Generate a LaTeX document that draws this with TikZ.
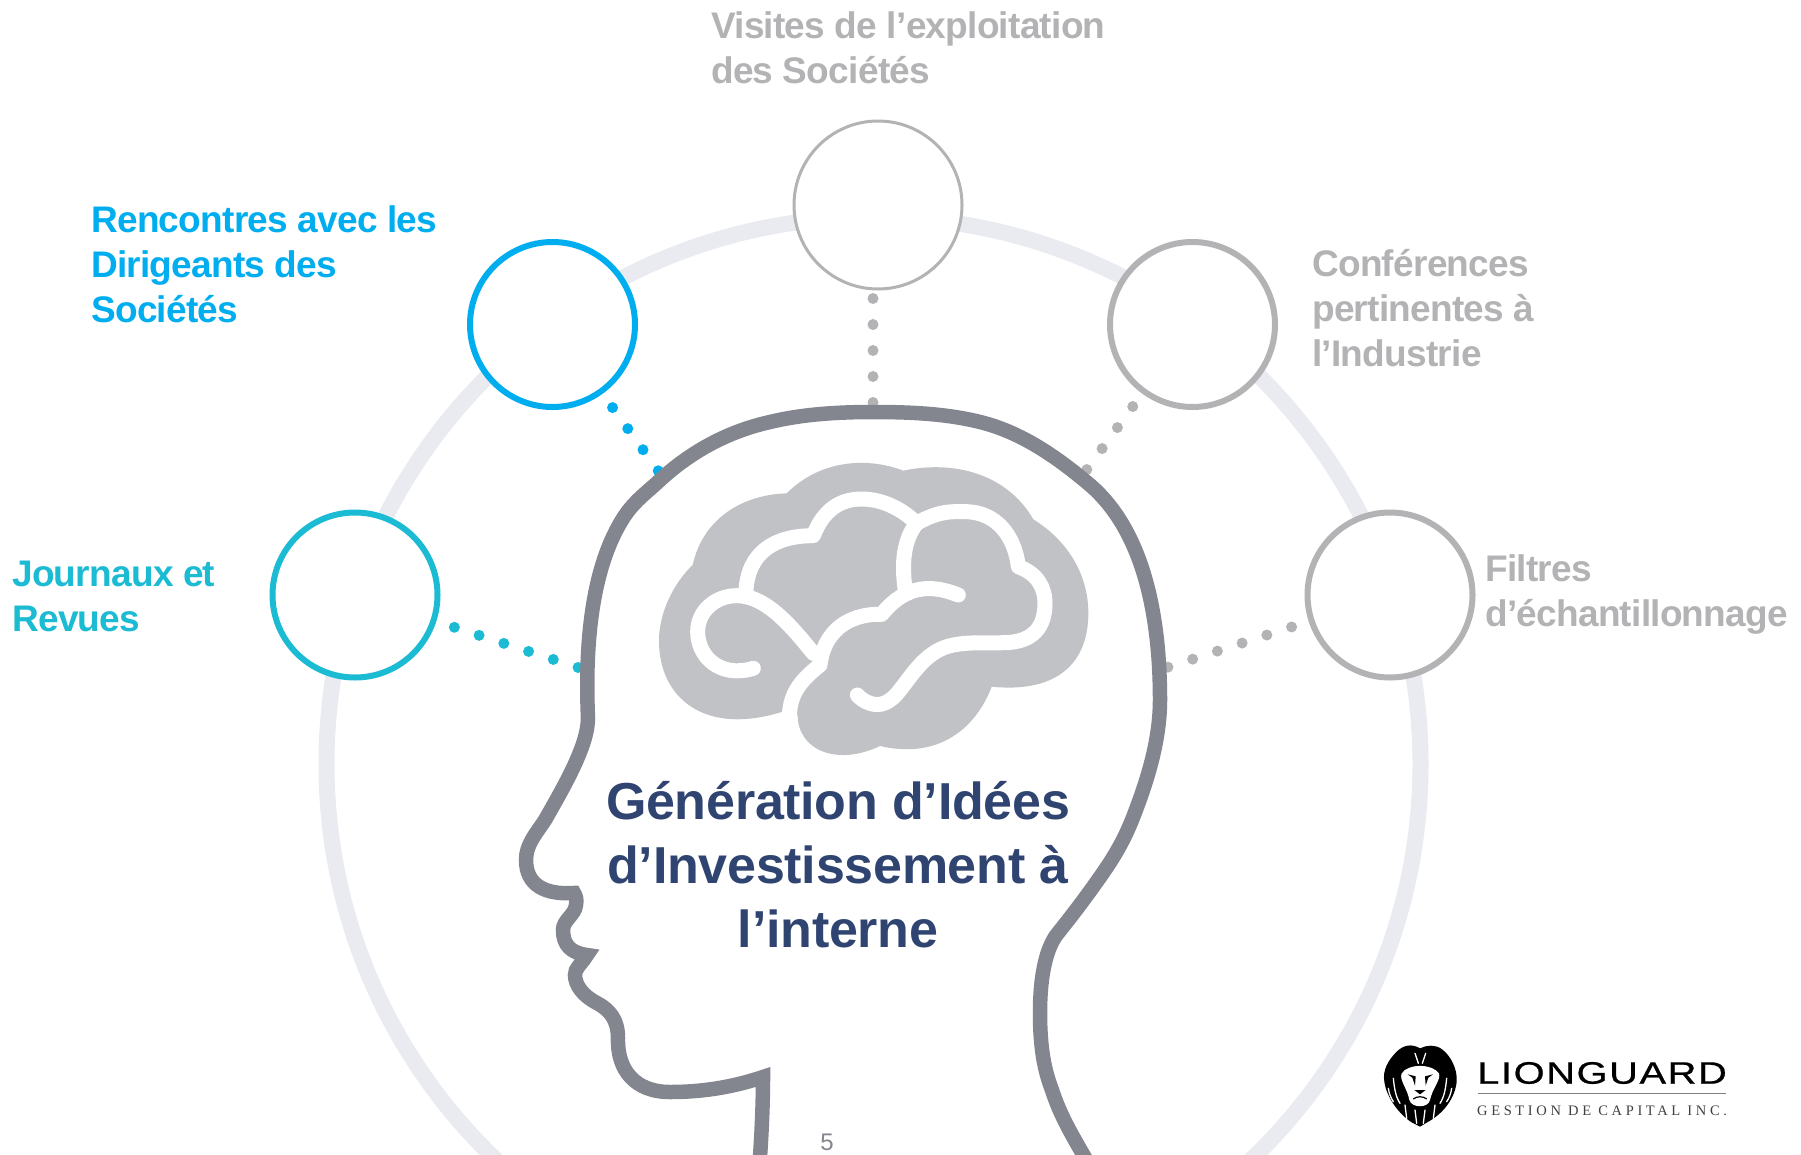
\documentclass[tikz,border=0pt]{standalone}
\usepackage{fontspec}
\setmainfont{Liberation Sans}
\newfontfamily\logosub[LetterSpace=25]{Liberation Serif}
\newfontfamily\logomain[LetterSpace=4,FakeBold=0.6]{Liberation Sans}
\newfontfamily\labfont[LetterSpace=-2]{Liberation Sans Bold}
\newfontfamily\mainfont[LetterSpace=-0.5]{Liberation Sans Bold}
\definecolor{cblue}{HTML}{00AEEF}
\definecolor{cteal}{HTML}{1CBBD4}
\definecolor{cgray}{HTML}{B3B3B5}
\definecolor{cnavy}{HTML}{2F4470}
\definecolor{chead}{HTML}{83868E}
\definecolor{cring}{HTML}{E9EBF1}
\definecolor{cbrain}{HTML}{C1C2C6}
\tikzset{
  bubble/.style={circle,draw,fill=white,line width=6pt,minimum size=165pt,inner sep=0pt,outer sep=0pt},
  dotrow/.style={line width=11pt,line cap=round,dash pattern=on 0pt off 26pt},
  lab/.style={anchor=west,align=left,inner sep=0pt,font=\labfont\fontsize{37}{45}\selectfont},
  fold/.style={draw=white,line width=15pt,line cap=round,line join=round},
  mane/.style={draw=white,line width=1.3pt,line cap=round}
}
\begin{document}
\begin{tikzpicture}[x=1pt,y=-1pt]
\useasboundingbox (0,0) rectangle (1801,1154);
\clip (0,0) rectangle (1801,1154);
\fill[white] (0,0) rectangle (1801,1154);
% ring
\draw[cring,line width=16pt] (873.5,764) circle[radius=547pt];
% bubbles
\node[bubble,draw=cteal] (journaux) at (355,595) {};
\node[bubble,draw=cblue] (rencontres) at (552.5,324.5) {};
\node[bubble,draw=cgray,line width=3pt,minimum size=168pt] (visites) at (878,205) {};
\node[bubble,draw=cgray] (conferences) at (1192.5,324.5) {};
\node[bubble,draw=cgray] (filtres) at (1390,595) {};
% head anchors
\coordinate (hJ) at (595,673);
\coordinate (hR) at (662,476);
\coordinate (hV) at (873,405);
\coordinate (hC) at (1085,472);
\coordinate (hF) at (1150,673);
% dots
\draw[dotrow,cteal,shorten <=22pt] (journaux) -- (hJ);
\draw[dotrow,cblue,shorten <=20pt] (rencontres) -- (hR);
\draw[dotrow,cgray,shorten <=9.5pt] (visites.south -| hV) -- (hV);
\draw[dotrow,cgray,shorten <=19pt] (conferences) -- (hC);
\draw[dotrow,cgray,shorten <=21pt] (filtres) -- (hF);
% head
\draw[chead,line width=14.5pt,line join=miter,miter limit=12,fill=white]
  (757,1195) .. controls (761,1150) and (763,1110) .. (763,1077)
  .. controls (730,1088) and (700,1092) .. (670,1092)
  .. controls (635,1092) and (617,1070) .. (618,1038)
  .. controls (618,1020) and (610,1010) .. (597,1003)
  .. controls (583,996) and (575,985) .. (575,975)
  .. controls (575,968) and (580,966) .. (587,955)
  .. controls (571,953) and (563,945) .. (563,930)
  .. controls (563,920) and (575,915) .. (576,905)
  .. controls (577,900) and (576,896) .. (574,893)
  .. controls (545,895) and (526,885) .. (526,860)
  .. controls (526,845) and (535,835) .. (545,820)
  .. controls (565,785) and (588,745) .. (588,718)
  .. controls (585,651) and (590,572) .. (622,520)
  .. controls (633,502) and (645,494) .. (659,481)
  .. controls (688,454) and (725,432) .. (770,422)
  .. controls (803,414) and (839,412) .. (873,412)
  .. controls (909,412) and (946,413.5) .. (980,422)
  .. controls (1021,432) and (1057,457) .. (1090,485)
  .. controls (1147,534) and (1160,625) .. (1160,700)
  .. controls (1160,741) and (1147,782) .. (1132,820)
  .. controls (1120,850) and (1105,870) .. (1093,887)
  .. controls (1080,905) and (1070,918) .. (1058,933)
  .. controls (1048,945) and (1040,970) .. (1040,1013)
  .. controls (1040,1050) and (1045,1072) .. (1052,1090)
  .. controls (1060,1115) and (1072,1135) .. (1084,1156)
  -- (1110,1200) -- (757,1200) -- cycle;
% brain
\begin{scope}[shift={(620,430)},x=0.33333pt,y=-0.33333pt]
\fill[cbrain]
  (500,190) .. controls (600,90) and (740,80) .. (850,122)
  .. controls (1000,90) and (1160,130) .. (1240,268)
  .. controls (1340,330) and (1405,430) .. (1405,550)
  .. controls (1405,700) and (1310,790) .. (1115,770)
  .. controls (1070,890) and (960,990) .. (780,948)
  .. controls (650,1010) and (533,960) .. (533,855)
  -- (488,845)
  .. controls (250,920) and (115,800) .. (117,630)
  .. controls (117,550) and (160,460) .. (218,405)
  .. controls (245,280) and (350,195) .. (500,190) -- cycle;
\draw[fold] (400,715) .. controls (300,745) and (233,680) .. (233,605)
  .. controls (233,540) and (290,497) .. (350,497)
  .. controls (430,497) and (500,570) .. (580,670);
\draw[fold] (378,480) .. controls (385,370) and (460,317) .. (580,317)
  .. controls (610,240) and (660,207) .. (725,207)
  .. controls (790,207) and (850,240) .. (890,280)
  .. controls (960,240) and (1000,245) .. (1035,245)
  .. controls (1130,245) and (1185,320) .. (1195,410)
  .. controls (1250,430) and (1275,470) .. (1275,520)
  .. controls (1275,590) and (1240,638) .. (1150,638)
  .. controls (1100,640) and (1050,635) .. (1000,645)
  .. controls (920,660) and (880,730) .. (840,780)
  .. controls (810,820) and (780,830) .. (750,820)
  .. controls (735,815) and (720,805) .. (712,795);
\draw[fold] (1015,495) .. controls (940,465) and (860,460) .. (785,553)
  .. controls (680,550) and (610,610) .. (600,705)
  .. controls (530,760) and (510,800) .. (508,860);
\draw[fold] (890,280) .. controls (850,330) and (845,400) .. (855,475);
\end{scope}
% labels
\node[lab,text=cgray] (tV) at (711,48) {Visites de l’exploitation\\des Sociétés};
\node[lab,text=cblue] (tR) at (91,264) {Rencontres avec les\\Dirigeants des\\Sociétés};
\node[lab,text=cgray] (tC) at (1312,308) {Conférences\\pertinentes à\\l’Industrie};
\node[lab,text=cteal] (tJ) at (12,596) {Journaux et\\Revues};
\node[lab,text=cgray] (tF) at (1485,594.5) {Filtres\\d’échantillonnage};
\node[align=center,inner sep=0pt,text=cnavy,font=\mainfont\fontsize{52}{64}\selectfont] (main) at (838,865) {Génération d’Idées\\d’Investissement à\\l’interne};
\node[text=chead,inner sep=0pt,font=\fontsize{24}{24}\selectfont] (page) at (827,1142) {5};
% logo
\begin{scope}[shift={(1375,1035)},x=0.33333pt,y=-0.33333pt]
\fill[black] (135,40) .. controls (110,25) and (85,30) .. (65,50)
  .. controls (40,75) and (22,105) .. (28,140)
  .. controls (35,190) and (75,240) .. (110,262)
  -- (135,275) -- (160,260)
  .. controls (205,235) and (240,190) .. (245,140)
  .. controls (248,100) and (225,60) .. (200,42)
  .. controls (180,28) and (155,30) .. (135,40) -- cycle;
\fill[white] (80,115) .. controls (100,85) and (170,85) .. (192,115)
  .. controls (198,135) and (172,160) .. (165,195)
  .. controls (160,220) and (110,220) .. (103,195)
  .. controls (97,160) and (72,135) .. (80,115) -- cycle;
\fill[black] (98,118) -- (122,124) -- (120,152) -- (112,128) -- cycle;
\fill[black] (174,118) -- (150,124) -- (152,152) -- (160,128) -- cycle;
\fill[black] (118,165) -- (152,165) -- (135,178) -- cycle;
\draw[black,line width=1.2pt] (115,192) .. controls (125,183) and (145,183) .. (155,192);
\draw[mane] (120,55) -- (130,85);
\draw[mane] (152,55) -- (142,85);
\draw[mane] (55,130) .. controls (58,160) and (62,185) .. (75,205);
\draw[mane] (40,160) .. controls (42,175) and (48,190) .. (55,200);
\draw[mane] (215,130) .. controls (212,160) and (208,185) .. (195,205);
\draw[mane] (230,160) .. controls (228,175) and (222,190) .. (215,200);
\draw[mane] (90,210) -- (95,250);
\draw[mane] (180,210) -- (175,250);
\draw[mane] (120,225) -- (125,265);
\draw[mane] (150,225) -- (145,265);
\end{scope}
\node[anchor=west,inner sep=0pt,transform shape,xscale=1.285,font=\logomain\fontsize{31}{31}\selectfont] (logoa) at (1477,1073) {LIONGUARD};
\coordinate (ruleL) at (1478,1093);
\coordinate (ruleR) at (1726,1093);
\draw[gray,line width=1pt] (ruleL) -- (ruleR);
\node[anchor=west,inner sep=0pt,font=\logosub\fontsize{14.5}{15}\selectfont,text=black!75] (logob) at (1477,1110.5) {GESTION DE CAPITAL INC.};
\end{tikzpicture}
\end{document}
